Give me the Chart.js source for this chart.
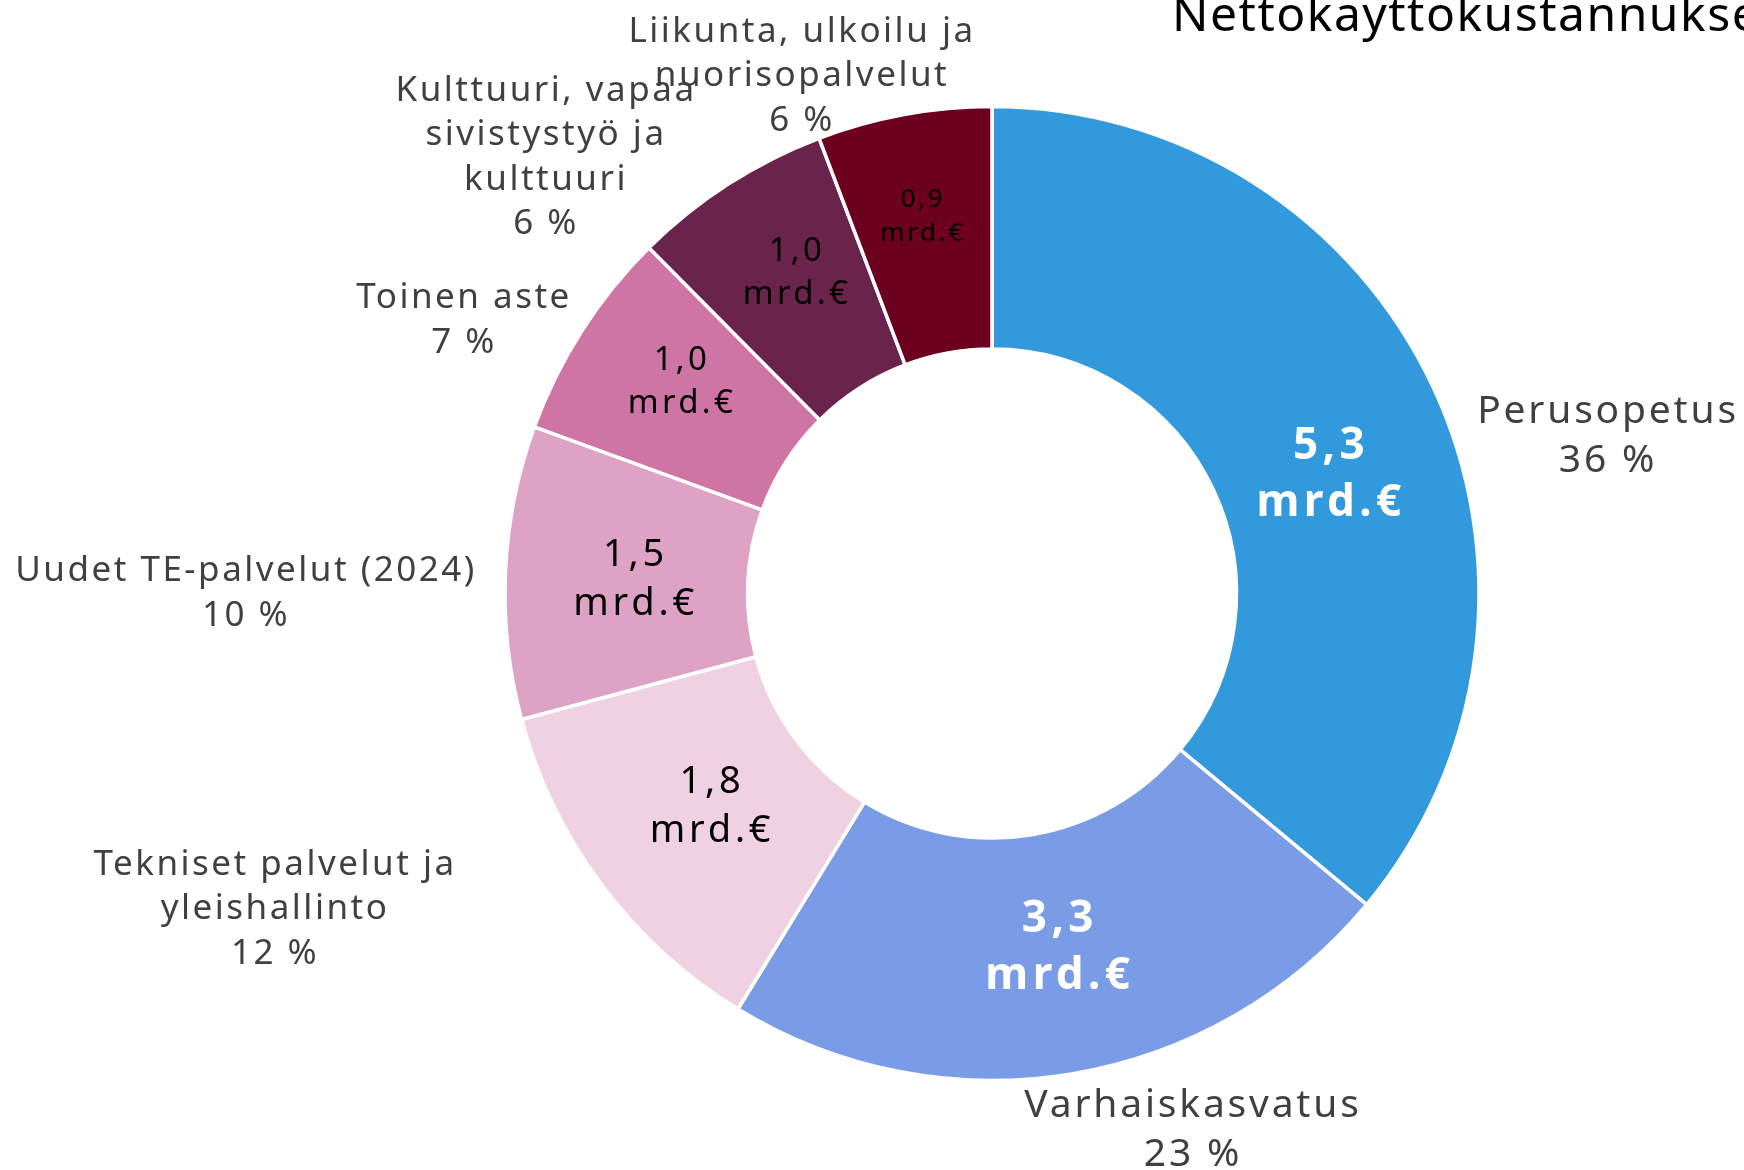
<!DOCTYPE html>
<html>
<head>
<meta charset="utf-8">
<script src="https://cdn.jsdelivr.net/npm/chart.js@4.4.1/dist/chart.umd.min.js"></script>
<style>
html, body { margin: 0; padding: 0; background: #fff; }
canvas { display: block; }
</style>
</head>
<body>
<canvas id="chart" width="1744" height="1170"></canvas>
<script>
// data, clockwise from the top
const categories = ['Perusopetus', 'Varhaiskasvatus', 'Tekniset palvelut ja\nyleishallinto', 'Uudet TE-palvelut (2024)', 'Toinen aste', 'Kulttuuri, vapaa\nsivistystyö ja\nkulttuuri', 'Liikunta, ulkoilu ja\nnuorisopalvelut'];
const values = [5.30, 3.34, 1.78, 1.43, 1.03, 0.98, 0.85];
const amountLabels = ['5,3', '3,3', '1,8', '1,5', '1,0', '1,0', '0,9'];
const shareLabels = ['36 %', '23 %', '12 %', '10 %', '7 %', '6 %', '6 %'];
const colors = ['#3399DD', '#7A9CE6', '#EFD1E2', '#DEA2C5', '#CE75A5', '#6A244B', '#6E001F'];

const FONT = '"Noto Sans", sans-serif';
const title = 'Nettokayttokustannukset';

// label styling (inside amounts): size, bold, colour, nudge from arc centre
const innerStyle = [
  { size: 44, bold: true, color: '#fff', dx: 8, dy: 37 },
  { size: 44, bold: true, color: '#fff', dx: 8, dy: -6 },
  { size: 38, bold: false, color: '#000', dx: 13, dy: -6 },
  { size: 38, bold: false, color: '#000', dx: 9, dy: 2 },
  { size: 33, bold: false, color: '#000', dx: -2, dy: -14 },
  { size: 33, bold: false, color: '#000', dx: 3, dy: -13 },
  { size: 26, bold: false, color: '#000', dx: -3, dy: -17 }
];
// outside labels: size and block centre relative to pie centre
const outerStyle = [
  { size: 39, dx: 616, dy: -157 },
  { size: 39, dx: 201, dy: 537 },
  { size: 35, dx: -717, dy: 316 },
  { size: 35, dx: -746, dy: 0 },
  { size: 35, dx: -528, dy: -273 },
  { size: 35, dx: -446, dy: -436 },
  { size: 35, dx: -190, dy: -517 }
];

function drawLines(ctx, lines, x, y, lh) {
  const y0 = y - (lines.length - 1) * lh / 2;
  lines.forEach((t, k) => ctx.fillText(t, x, y0 + k * lh));
}

const labelPlugin = {
  id: 'sliceLabels',
  afterDatasetsDraw(chart) {
    const ctx = chart.ctx;
    const arcs = chart.getDatasetMeta(0).data;
    const cx = arcs[0].x, cy = arcs[0].y;
    ctx.save();
    ctx.textAlign = 'center';
    ctx.textBaseline = 'middle';
    arcs.forEach((arc, i) => {
      const p = arc.getCenterPoint();
      const s = innerStyle[i];
      ctx.font = (s.bold ? 'bold ' : '') + s.size + 'px ' + FONT;
      ctx.letterSpacing = (s.size * 0.1).toFixed(1) + 'px';
      ctx.fillStyle = s.color;
      drawLines(ctx, [amountLabels[i], 'mrd.€'], p.x + s.dx, p.y + s.dy, s.size * 1.3);

      const o = outerStyle[i];
      ctx.font = o.size + 'px ' + FONT;
      ctx.letterSpacing = (o.size * 0.072).toFixed(1) + 'px';
      ctx.fillStyle = '#404040';
      const lines = categories[i].split('\n').concat([shareLabels[i]]);
      drawLines(ctx, lines, cx + o.dx, cy + o.dy, o.size * 1.26);
    });
    ctx.textAlign = 'left';
    ctx.textBaseline = 'alphabetic';
    ctx.font = '48px ' + FONT;
    ctx.letterSpacing = '1.5px';
    ctx.fillStyle = '#000';
    ctx.fillText(title, 1172, 31);
    ctx.restore();
  }
};

new Chart(document.getElementById('chart'), {
  type: 'doughnut',
  data: {
    labels: categories,
    datasets: [{
      data: values,
      backgroundColor: colors,
      borderColor: '#fff',
      borderWidth: 3.5
    }]
  },
  options: {
    responsive: false,
    animation: false,
    radius: 487,
    cutout: '50.2%',
    layout: { padding: { left: 500, right: 260, top: 100, bottom: 83 } },
    plugins: {
      legend: { display: false },
      tooltip: { enabled: false }
    }
  },
  plugins: [labelPlugin]
});
</script>
</body>
</html>
